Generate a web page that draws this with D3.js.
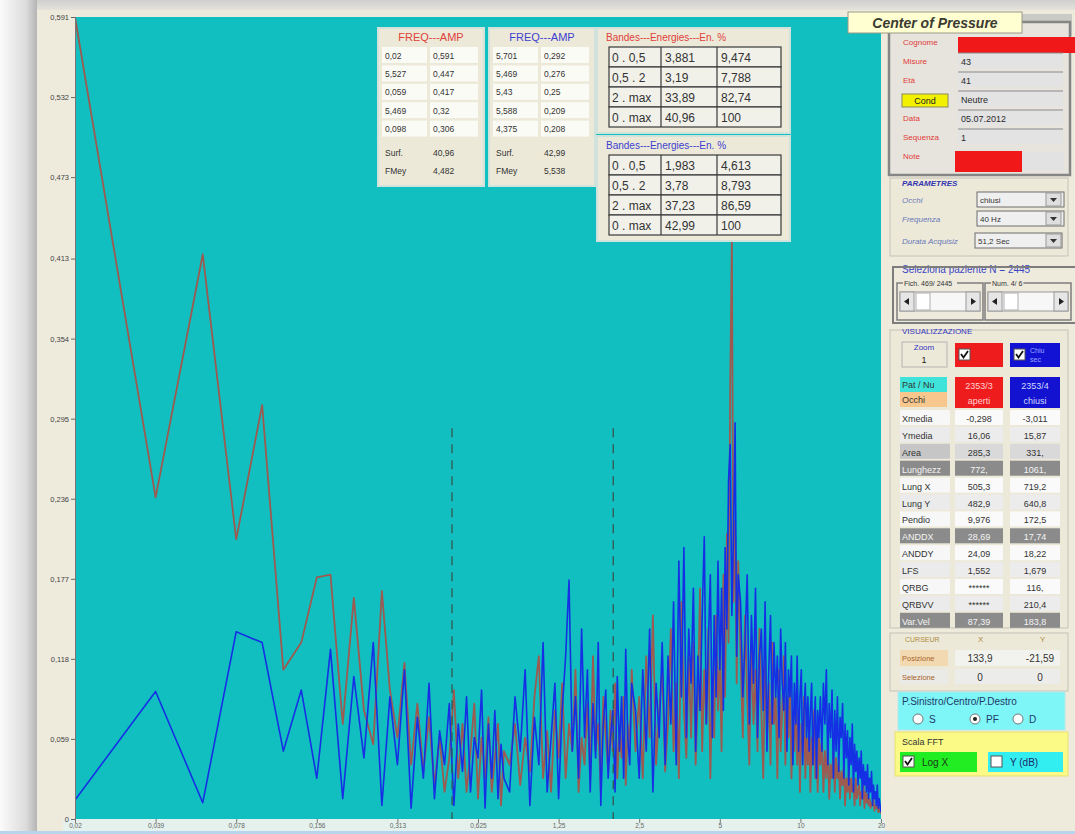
<html>
<head>
<script src="https://d3js.org/d3.v7.min.js"></script>
<style>
body{margin:0;background:#eeeadc;overflow:hidden;}
text{font-family:"Liberation Sans",Arial,sans-serif;}
</style>
</head>
<body>
<svg id="chart" width="1075" height="834"></svg>
<script>
// FFT bins (resolution 1/51.2 s) taken in runs [from, to, step]
const binRuns=[[1,40,1],[42,120,2],[124,300,4],[306,600,6],[608,1024,8]];
const df=1/51.2;

// red = occhi aperti, blue = occhi chiusi (amplitudes)
const ampRed=[
 0.591,0.237,0.416,0.206,0.305,0.11,0.13,0.178,0.18,0.07,
 0.163,0.08,0.055,0.168,0.095,0.06,0.115,0.04,0.085,0.035,
 0.075,0.025,0.06,0.02,0.045,0.095,0.03,0.07,0.02,0.05,
 0.085,0.015,0.06,0.03,0.075,0.02,0.045,0.07,0.01,0.05,
 0.04,0.07,0.025,0.06,0.035,0.09,0.12,0.03,0.065,0.02,
 0.08,0.045,0.1,0.03,0.07,0.05,0.11,0.02,0.06,0.04,
 0.085,0.03,0.12,0.05,0.07,0.02,0.09,0.06,0.035,0.08,
 0.05,0.1,0.03,0.065,0.045,0.09,0.025,0.07,0.055,0.11,
 0.05,0.09,0.03,0.12,0.06,0.15,0.04,0.08,0.11,0.035,
 0.07,0.14,0.05,0.1,0.03,0.16,0.08,0.045,0.12,0.06,
 0.13,0.04,0.09,0.17,0.05,0.11,0.07,0.14,0.03,0.1,
 0.06,0.15,0.08,0.12,0.05,0.18,0.09,0.21,0.13,0.32,
 0.43,0.16,0.22,0.1,0.19,
 0.12,0.06,0.15,0.09,0.04,0.13,0.07,0.11,0.05,0.14,
 0.08,0.03,0.12,0.06,0.1,0.04,0.13,0.07,0.09,0.03,
 0.11,0.05,0.08,0.12,0.04,0.09,0.06,0.1,0.03,0.07,
 0.05,0.09,0.04,0.08,0.02,0.07,0.05,0.09,0.03,0.06,
 0.04,0.07,0.02,0.06,0.04,0.08,0.03,0.05,0.02,0.06,
 0.04,0.06,0.02,0.05,0.03,0.055,0.015,0.04,0.03,0.05,
 0.02,0.045,0.03,0.04,0.015,0.035,0.025,0.04,0.01,0.03,
 0.02,0.035,0.015,0.03,0.02,0.025,0.01,0.03,0.015,0.02,
 0.025,0.01,0.02,0.015,0.025,0.008,0.02,0.012,0.018,0.01,
 0.015,0.008,0.012,0.01,0.014,0.006,0.01,0.008,0.012,0.005,
 0.008,0.006,0.004
];
const ampBlue=[
 0.014,0.094,0.012,0.138,0.13,0.05,0.095,0.03,0.125,0.015,
 0.105,0.045,0.13,0.01,0.09,0.04,0.11,0.008,0.075,0.03,
 0.1,0.015,0.065,0.04,0.085,0.01,0.07,0.035,0.09,0.02,
 0.06,0.045,0.095,0.008,0.07,0.03,0.08,0.015,0.055,0.03,
 0.02,0.09,0.05,0.11,0.01,0.075,0.04,0.13,0.02,0.06,
 0.1,0.015,0.08,0.12,0.176,0.05,0.09,0.03,0.14,0.06,
 0.11,0.02,0.085,0.045,0.13,0.01,0.07,0.095,0.03,0.06,
 0.08,0.02,0.105,0.05,0.09,0.03,0.125,0.06,0.04,0.1,
 0.08,0.03,0.11,0.05,0.14,0.02,0.1,0.06,0.13,0.04,
 0.12,0.07,0.16,0.04,0.19,0.09,0.2,0.06,0.14,0.1,
 0.17,0.05,0.12,0.08,0.15,0.208,0.07,0.13,0.18,0.06,
 0.15,0.09,0.19,0.11,0.17,0.08,0.2,0.14,0.25,0.276,
 0.15,0.209,0.292,0.12,0.18,
 0.16,0.09,0.13,0.18,0.07,0.15,0.1,0.17,0.06,0.12,
 0.14,0.08,0.16,0.05,0.11,0.15,0.07,0.13,0.09,0.12,
 0.06,0.14,0.1,0.08,0.13,0.05,0.11,0.09,0.12,0.04,
 0.1,0.07,0.12,0.05,0.09,0.11,0.04,0.08,0.1,0.06,
 0.09,0.05,0.08,0.1,0.04,0.07,0.09,0.03,0.08,0.06,
 0.09,0.05,0.1,0.07,0.11,0.04,0.085,0.06,0.095,0.03,
 0.08,0.05,0.09,0.035,0.075,0.06,0.085,0.03,0.07,0.045,
 0.065,0.025,0.06,0.04,0.07,0.02,0.055,0.035,0.05,0.025,
 0.045,0.03,0.05,0.015,0.04,0.025,0.035,0.02,0.04,0.015,
 0.03,0.02,0.035,0.01,0.025,0.015,0.02,0.01,0.025,0.008,
 0.015,0.01,0.005
];

const xTickValues=[0.01953125,0.0390625,0.078125,0.15625,0.3125,0.625,1.25,2.5,5,10,20];
const xTickLabels=["0,02","0,039","0,078","0,156","0,313","0,625","1,25","2,5","5","10","20"];
const yTickValues=[0,0.059,0.118,0.177,0.236,0.295,0.354,0.413,0.473,0.532,0.591];
const yTickLabels=["0","0,059","0,118","0,177","0,236","0,295","0,354","0,413","0,473","0,532","0,591"];
const bandLimits=[0.5,2];
const bandLineTop=0.288;

// tables over the plot
const freqAmpRed=[["0,02","0,591"],["5,527","0,447"],["0,059","0,417"],["5,469","0,32"],["0,098","0,306"]];
const freqAmpBlue=[["5,701","0,292"],["5,469","0,276"],["5,43","0,25"],["5,588","0,209"],["4,375","0,208"]];
const surfFmeyRed=["40,96","4,482"];
const surfFmeyBlue=["42,99","5,538"];
const bandLabels=["0 . 0,5","0,5 . 2","2 . max","0 . max"];
const bandsRed=[["3,881","9,474"],["3,19","7,788"],["33,89","82,74"],["40,96","100"]];
const bandsBlue=[["1,983","4,613"],["3,78","8,793"],["37,23","86,59"],["42,99","100"]];

// right panel
const anagLabels=["Cognome","Misure","Età","","Data","Sequenza","Note"];
const anagValues=["","43","41","Neutre","05.07.2012","1",""];
const paramLabels=["Occhi","Frequenza","Durata Acquisiz"];
const paramValues=["chiusi","40 Hz","51,2 Sec"];
const statLabels=["Xmedia","Ymedia","Area","Lunghezz","Lung X","Lung Y","Pendio","ANDDX","ANDDY","LFS","QRBG","QRBVV","Var.Vel"];
const statOpen=["-0,298","16,06","285,3","772,","505,3","482,9","9,976","28,69","24,09","1,552","******","******","87,39"];
const statClosed=["-3,011","15,87","331,","1061,","719,2","640,8","172,5","17,74","18,22","1,679","116,","210,4","183,8"];

const svg=d3.select("#chart");

// build series
const bins=[];
binRuns.forEach(r=>{d3.range(r[0],r[1]+1,r[2]).forEach(k=>bins.push(k));});
const red=bins.map((k,i)=>({f:k*df,a:ampRed[i]}));
const blue=bins.map((k,i)=>({f:k*df,a:ampBlue[i]}));

const plotL=75,plotR=881,plotT=17,plotB=819;
const x=d3.scaleLog().domain([df,20]).range([plotL,plotR]);
const y=d3.scaleLinear().domain([0,0.591]).range([plotB,plotT]);

// window background + blurred shadow on the left
const defs=svg.append("defs");
const sh=defs.append("linearGradient").attr("id","shade");
sh.append("stop").attr("offset","0").attr("stop-color","#fbfbfb");
sh.append("stop").attr("offset","0.7").attr("stop-color","#dcdcdc");
sh.append("stop").attr("offset","1").attr("stop-color","#b4b4b4");
const tp=defs.append("linearGradient").attr("id","topshade").attr("x1",0).attr("x2",0).attr("y1",0).attr("y2",1);
tp.append("stop").attr("offset","0").attr("stop-color","#cfcfcf");
tp.append("stop").attr("offset","1").attr("stop-color","#e4e2da");
defs.append("clipPath").attr("id","plotclip").append("rect")
   .attr("x",plotL).attr("y",plotT).attr("width",plotR-plotL).attr("height",plotB-plotT);

svg.append("rect").attr("width",1075).attr("height",834).attr("fill","#eeeadc");
svg.append("rect").attr("x",36).attr("width",1039).attr("height",10).attr("fill","url(#topshade)");
svg.append("rect").attr("width",37).attr("height",834).attr("fill","url(#shade)");

// plot area
svg.append("rect").attr("x",63).attr("y",plotB).attr("width",plotR-63+4).attr("height",12).attr("fill","#e4f1ec");
svg.append("rect").attr("x",plotL).attr("y",plotT).attr("width",plotR-plotL).attr("height",plotB-plotT).attr("fill","#12bfc0");

const lineGen=d3.line().x(d=>x(d.f)).y(d=>y(d.a));
const lines=svg.append("g").attr("clip-path","url(#plotclip)");
lines.append("path").datum(red).attr("d",lineGen).attr("fill","none")
     .attr("stroke","#9c5a50").attr("stroke-width",1.8).attr("stroke-linejoin","round");
lines.append("path").datum(blue).attr("d",lineGen).attr("fill","none")
     .attr("stroke","#1530e4").attr("stroke-width",1.6).attr("stroke-linejoin","round");

// band limits (0.5 Hz, 2 Hz)
svg.selectAll("line.band").data(bandLimits).join("line").attr("class","band")
   .attr("x1",d=>x(d)).attr("x2",d=>x(d)).attr("y1",y(bandLineTop)).attr("y2",plotB)
   .attr("stroke","#2f5d5c").attr("stroke-width",1.4).attr("stroke-dasharray","9,7");

// axes
const yAxis=svg.append("g").attr("transform",`translate(${plotL},0)`)
   .call(d3.axisLeft(y).tickValues(yTickValues).tickFormat((d,i)=>yTickLabels[i]).tickSize(4).tickPadding(2));
yAxis.select(".domain").attr("stroke","#777");
yAxis.selectAll("text").attr("font-size",7.5).attr("fill","#444");
yAxis.selectAll("line").attr("stroke","#666");

const xAxis=svg.append("g").attr("transform",`translate(0,${plotB})`)
   .call(d3.axisBottom(x).tickValues(xTickValues).tickFormat((d,i)=>xTickLabels[i]).tickSize(4).tickPadding(0));
xAxis.select(".domain").remove();
xAxis.selectAll("text").attr("font-size",6.5).attr("fill","#666").attr("dy","0.75em");
xAxis.selectAll("line").attr("stroke","#777");

svg.append("rect").attr("y",831).attr("width",1075).attr("height",3).attr("fill","#b9d5ee");

// helpers
function box(g,x0,y0,w,h,fill,stroke,sw){
  return g.append("rect").attr("x",x0).attr("y",y0).attr("width",w).attr("height",h)
          .attr("fill",fill||"none").attr("stroke",stroke||"none").attr("stroke-width",sw||1);
}
function label(g,x0,y0,str,size,color,anchor){
  return g.append("text").attr("x",x0).attr("y",y0).text(str).attr("font-size",size)
          .attr("fill",color||"#333").attr("text-anchor",anchor||"start");
}
function check(g,x0,y0,on){
  box(g,x0,y0,11,11,"#ffffff","#555");
  if(on) g.append("path").attr("d",`M${x0+2},${y0+5} L${x0+4.5},${y0+8.5} L${x0+9},${y0+2}`)
          .attr("fill","none").attr("stroke","#111").attr("stroke-width",1.8);
}

// FREQ---AMP tables
function freqTable(x0,color,rows,sf){
  const g=svg.append("g");
  box(g,x0,28,106,158,"#ece9d8","#cfe3dc",2);
  label(g,x0+53,41,"FREQ---AMP",11,color,"middle");
  rows.forEach((r,i)=>{
    const yy=47+i*18.4;
    box(g,x0+4,yy,45,16,"#fbfbf5");
    box(g,x0+52,yy,48,16,"#fbfbf5");
    label(g,x0+7,yy+11.5,r[0],8.5,"#333");
    label(g,x0+55,yy+11.5,r[1],8.5,"#333");
  });
  label(g,x0+7,156,"Surf.",8.5,"#333");
  label(g,x0+55,156,sf[0],8.5,"#333");
  label(g,x0+7,174,"FMey",8.5,"#333");
  label(g,x0+55,174,sf[1],8.5,"#333");
}
freqTable(378,"#e0403a",freqAmpRed,surfFmeyRed);
freqTable(489,"#4040d0",freqAmpBlue,surfFmeyBlue);

// Bandes---Energies tables
function bandTable(y0,color,rows){
  const g=svg.append("g");
  box(g,597,y0,193,105,"#ece9d8","#cfe3dc",2);
  label(g,606,y0+13,"Bandes---Energies---En. %",10,color);
  const gx=[609,661,717,781];
  rows.forEach((r,i)=>{
    const yy=y0+19+i*20;
    box(g,gx[0],yy,gx[3]-gx[0],20,"#f1f1ea","#3a3a3a",1.2);
    [gx[1],gx[2]].forEach(c=>g.append("line").attr("x1",c).attr("x2",c).attr("y1",yy).attr("y2",yy+20)
        .attr("stroke","#3a3a3a").attr("stroke-width",1.2));
    label(g,gx[0]+3,yy+15,bandLabels[i],12,"#333");
    label(g,gx[1]+4,yy+15,r[0],12,"#333");
    label(g,gx[2]+4,yy+15,r[1],12,"#333");
  });
}
bandTable(28,"#e0403a",bandsRed);
bandTable(136,"#4040d0",bandsBlue);

// right panel
const p=svg.append("g");
box(p,1022,14,50,22,"#c9c9c6");
box(p,889,22,181,153,"#e6e4dc","#858585",2.5);
box(p,848,12,174,21,"#ffffd2","#9a9a8a",1);
p.append("text").attr("x",935).attr("y",28).text("Center of Pressure").attr("font-size",14)
 .attr("font-style","italic").attr("font-weight","bold").attr("text-anchor","middle").attr("fill","#3a3a30");

const anagY=[45,64,83,102,121,140,159];
anagLabels.forEach((s,i)=>{
  if(s) label(p,903,anagY[i],s,8,"#e23a3a");
  if(i===0) box(p,958,37,117,16,"#f01818");
  else if(i===6){ box(p,1022,152,42,18,"#e2e2e2"); box(p,955,151,67,21,"#f01818"); }
  else {
    box(p,958,anagY[i]-11,105,15,"#e3e3e3");
    p.append("line").attr("x1",958).attr("x2",1063).attr("y1",anagY[i]-11).attr("y2",anagY[i]-11).attr("stroke","#8a8a8a");
    label(p,961,anagY[i]+1,anagValues[i],9,"#2a2a2a");
  }
});
box(p,902,94,46,13,"#f2f200","#8a8a60");
label(p,925,104,"Cond",9,"#222","middle");

// PARAMETRES
box(p,890,178,178,78,"#ece9d8","#c4c2b8");
label(p,902,186,"PARAMETRES",8,"#3535b0").attr("font-style","italic").attr("font-weight","bold");
paramLabels.forEach((s,i)=>{
  const yy=[203,222,244][i];
  label(p,902,yy,s,8,"#6a78b8").attr("font-style","italic");
  const sx=i===2?975:977;
  box(p,sx,yy-11,87,15,"#efefef","#6d6d6d");
  box(p,1046,yy-10,15,13,"#dedede","#9a9a9a");
  p.append("path").attr("d",`M${1050},${yy-5} L${1057},${yy-5} L${1053.5},${yy-1}z`).attr("fill","#333");
  label(p,sx+3,yy,paramValues[i],8,"#333");
});

// Seleziona paziente
label(p,902,273,"Seleziona paziente N =  2445",10,"#3a46c4");
box(p,893,267,184,56,"none","#7d7d7d",2);
function scroller(x0,title){
  box(p,x0,283,86,37,"none","#7d7d7d",1.5);
  box(p,x0+6,279,title.length*3.6,8,"#eeeadc");
  label(p,x0+7,286,title,7,"#333");
  box(p,x0+3,292,80,19,"#f7f7f7","#9a9a9a");
  box(p,x0+3,292,14,19,"#e6e6e6","#9a9a9a");
  box(p,x0+69,292,14,19,"#e6e6e6","#9a9a9a");
  box(p,x0+19,293,14,17,"#ffffff","#b0b0b0");
  p.append("path").attr("d",`M${x0+7},${301.5} L${x0+12},${298} L${x0+12},${305}z`).attr("fill","#222");
  p.append("path").attr("d",`M${x0+79},${301.5} L${x0+74},${298} L${x0+74},${305}z`).attr("fill","#222");
}
scroller(897,"Fich. 469/ 2445");
scroller(985,"Num. 4/ 6");

// VISUALIZZAZIONE
box(p,890,330,178,298,"#ece9d8","#c4c2b8");
label(p,902,334,"VISUALIZZAZIONE",8,"#3535c0");
box(p,902,342,45,25,"#ece9d8","#b4b4b4");
label(p,924,350,"Zoom",8,"#3535c0","middle");
label(p,924,363,"1",9,"#222","middle");
box(p,955,343,48,24,"#ee1c1c");
check(p,959,349,true);
box(p,1010,343,50,24,"#1212d4");
check(p,1014,349,true);
label(p,1030,353,"Chiu",7,"#9aa8ff");
label(p,1030,362,"sec",7,"#9aa8ff");

box(p,900,377,47,15,"#3fe3da");
label(p,902,388,"Pat / Nu",9,"#333");
box(p,900,392,47,15,"#f7c78e");
label(p,902,403,"Occhi",9,"#333");
box(p,955,377,48,31,"#ee1c1c");
label(p,979,389,"2353/3",9,"#ffd0d0","middle");
label(p,979,404,"aperti",9,"#ffd0d0","middle");
box(p,1010,377,50,31,"#1212d0");
label(p,1035,389,"2353/4",9,"#d0d8ff","middle");
label(p,1035,404,"chiusi",9,"#d0d8ff","middle");

const darkRows=[3,7,12];
statLabels.forEach((s,i)=>{
  const yc=418+i*16.9;
  const dark=darkRows.includes(i);
  const lf=dark?"#8b8b8b":(i===2?"#c6c6c6":(i%2?"#ebebeb":"#f7f7f7"));
  const vf=dark?"#8b8b8b":(i===2?"#d9d9d9":(i%2?"#ececec":"#fafafa"));
  const tc=dark?"#f4f4f4":"#333";
  box(p,900,yc-8,50,15,lf);
  box(p,955,yc-8,48,15,vf);
  box(p,1010,yc-8,50,15,vf);
  label(p,902,yc+4,s,9,tc);
  label(p,979,yc+4,statOpen[i],9,tc,"middle");
  label(p,1035,yc+4,statClosed[i],9,tc,"middle");
});

// CURSEUR
box(p,890,633,178,58,"#ece9d8","#c4c2b8");
label(p,905,642,"CURSEUR",7,"#b08a40");
label(p,978,642,"X",8,"#b08a40");
label(p,1040,642,"Y",8,"#b08a40");
box(p,900,650,48,16,"#f2d9b2");
label(p,902,661,"Posizione",7.5,"#a8642a");
box(p,955,650,105,16,"#f2f2ee");
label(p,980,662,"133,9",10,"#333","middle");
label(p,1040,662,"-21,59",10,"#333","middle");
box(p,900,669,48,15,"#eaeae6");
label(p,902,680,"Selezione",7.5,"#a8642a");
box(p,955,669,105,15,"#ececea");
label(p,980,681,"0",10,"#333","middle");
label(p,1040,681,"0",10,"#333","middle");

// P.Sinistro/Centro/P.Destro
box(p,898,692,167,38,"#7ef5f6","#b8e8e8");
label(p,902,705,"P.Sinistro/Centro/P.Destro",10,"#203a6a");
[["S",918,false],["PF",975,true],["D",1018,false]].forEach(r=>{
  p.append("circle").attr("cx",r[1]).attr("cy",719).attr("r",5).attr("fill","#fff").attr("stroke","#777");
  if(r[2]) p.append("circle").attr("cx",r[1]).attr("cy",719).attr("r",2).attr("fill","#222");
  label(p,r[1]+11,723,r[0],10,"#203a6a");
});

// Scala FFT
box(p,895,732,173,44,"#fbfa86","#e8e070");
label(p,902,745,"Scala FFT",9,"#333");
box(p,900,752,77,20,"#22ec22");
check(p,903,756,true);
label(p,922,766,"Log X",10,"#1a3a1a");
box(p,988,752,75,20,"#33eef0");
check(p,991,756,false);
label(p,1010,766,"Y (dB)",10,"#1a2a6a");
</script>
</body>
</html>
